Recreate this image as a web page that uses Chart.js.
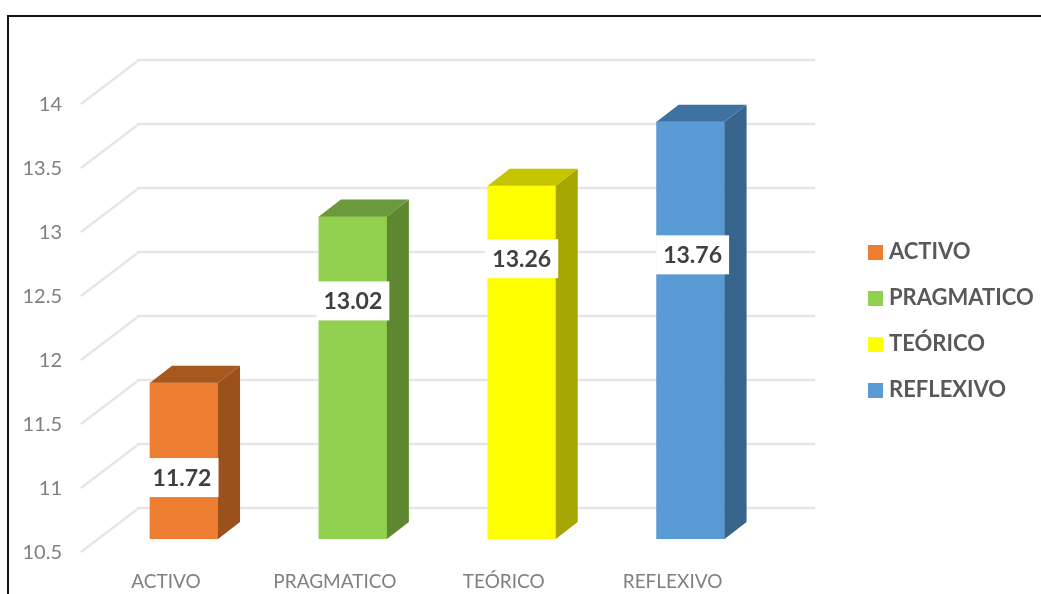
<!DOCTYPE html>
<html><head><meta charset="utf-8">
<style>
html,body{margin:0;padding:0;background:#fff;overflow:hidden}
#wrap{position:relative;width:1041px;height:594px;overflow:hidden}
#frame{position:absolute;left:7px;top:15px;right:-10px;bottom:-10px;border:2px solid #111;z-index:2;pointer-events:none}
canvas{filter:blur(0.7px)}
</style>
<script src="https://cdn.jsdelivr.net/npm/chart.js@4"></script>
</head><body>
<div id="wrap"><div id="frame"></div><canvas id="c" width="1041" height="594"></canvas></div>
<script>
const categories = ['ACTIVO','PRAGMATICO','TEÓRICO','REFLEXIVO'];
const seriesValues = [11.72,13.02,13.26,13.76];
const yTickLabels = ['10.5','11','11.5','12','12.5','13','13.5','14'];
const labelAnchorValues = [10.98,12.36,12.69,12.72];
const labelShiftX = [-2,0,0,2];
const frontColors = ['#ED7D31','#92D050','#FFFF00','#5B9BD5'];
const sideColors = ['#9A511B','#5F8732','#A6A600','#39648C'];
const topColors = ['#A8581D','#6B9A3C','#C4C400','#3E72A3'];

const depthX = 22, depthY = -17;
function swatch(color){
  const cv = document.createElement('canvas');
  cv.width = 15; cv.height = 15;
  const g = cv.getContext('2d');
  g.fillStyle = color; g.fillRect(0,0,15,15);
  return cv;
}
const threeD = {
  id:'threeD',
  beforeDatasetsDraw(chart){
    const {ctx, scales:{y}, chartArea:a} = chart;
    ctx.save();
    ctx.strokeStyle = '#e6e6e6'; ctx.lineWidth = 2.4; ctx.lineJoin='miter';
    y.ticks.forEach(t=>{
      const py = y.getPixelForValue(t.value);
      ctx.beginPath();
      ctx.moveTo(a.left-18.6, py+13);
      ctx.lineTo(a.left+39.4, py-31);
      ctx.lineTo(a.right+40, py-31);
      ctx.stroke();
    });
    ctx.restore();
  },
  afterDatasetsDraw(chart){
    const {ctx} = chart, meta = chart.getDatasetMeta(0), y = chart.scales.y;
    ctx.save();
    meta.data.forEach((b,i)=>{
      const w = b.width/2, l = b.x-w, r = b.x+w, t = b.y, bt = b.base;
      ctx.fillStyle = sideColors[i];
      ctx.beginPath(); ctx.moveTo(r,t); ctx.lineTo(r+depthX,t+depthY); ctx.lineTo(r+depthX,bt+depthY); ctx.lineTo(r,bt); ctx.closePath(); ctx.fill();
      ctx.fillStyle = topColors[i];
      ctx.beginPath(); ctx.moveTo(l,t); ctx.lineTo(l+depthX,t+depthY); ctx.lineTo(r+depthX,t+depthY); ctx.lineTo(r,t); ctx.closePath(); ctx.fill();
    });
    meta.data.forEach((b,i)=>{
      const cy = y.getPixelForValue(labelAnchorValues[i]);
      const cx = b.x + labelShiftX[i];
      ctx.fillStyle = '#fff';
      ctx.fillRect(cx-36.5, cy-19.5, 73, 39);
      ctx.fillStyle = '#404040';
      ctx.font = 'bold 23px Lato';
      ctx.textAlign = 'center'; ctx.textBaseline = 'middle';
      ctx.fillText(seriesValues[i].toFixed(2), cx, cy+1);
    });
    ctx.restore();
  },
  afterLayout(chart){
    const lg = chart.legend;
    const h = lg.bottom - lg.top;
    lg.left = 873 - lg.options.labels.padding;
    lg.right = lg.left + lg.width;
    lg.top = 321 - h/2;
    lg.bottom = lg.top + h;
  }
};

new Chart(document.getElementById('c'),{
  type:'bar',
  data:{labels:categories,datasets:[{data:seriesValues,base:10.5,backgroundColor:frontColors,borderWidth:0,barThickness:68}]},
  plugins:[threeD],
  options:{
    responsive:false,animation:false,
    layout:{padding:{top:91,right:266,left:0,bottom:0}},
    scales:{
      x:{offset:true,border:{display:false},grid:{display:false},
         afterFit(s){s.height=55;},
         ticks:{font:{family:'Lato',size:19},color:'#808080',padding:23,labelOffset:-18,maxRotation:0,autoSkip:false}},
      y:{min:10.5,max:14,border:{display:false},grid:{display:false,drawTicks:false},
         afterFit(s){s.width=99.6;},
         ticks:{stepSize:0.5,font:{family:'Lato',size:20},color:'#808080',padding:37.6,labelOffset:14,
                callback:(v,i)=>yTickLabels[i]}}
    },
    plugins:{
      tooltip:{enabled:false},
      legend:{position:'chartArea',align:'center',
        labels:{usePointStyle:true,pointStyleWidth:5,boxHeight:14,padding:24,color:'#595959',font:{family:'Lato',size:22,weight:'bold'},
          generateLabels:()=>categories.map((c,i)=>({text:c,fontColor:'#595959',pointStyle:swatch(frontColors[i]),lineWidth:0,index:i}))}}
    }
  }
});
</script></body></html>
